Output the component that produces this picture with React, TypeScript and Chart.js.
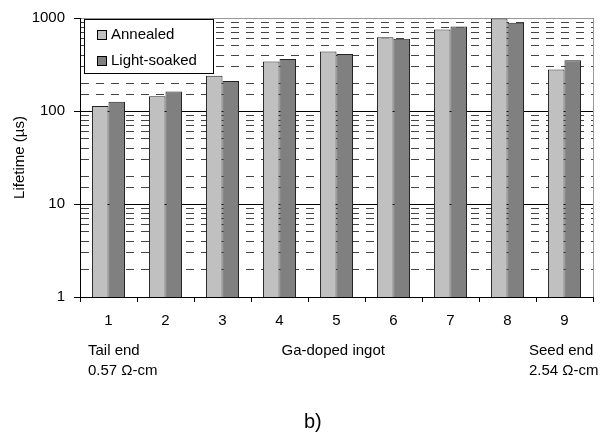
import React, { useEffect, useRef } from "react";
import { Chart, registerables } from "chart.js";

Chart.register(...registerables);

const categories = ["1", "2", "3", "4", "5", "6", "7", "8", "9"];
const annealed = [113, 144, 239, 341, 436, 622, 752, 990, 280];
const lightSoaked = [126, 162, 210, 363, 411, 598, 809, 890, 352];
const seriesNames = ["Annealed", "Light-soaked"];
const seriesColors = ["#c0c0c0", "#808080"];
const yTickLabels = [1, 10, 100, 1000];
const yTitle = "Lifetime (µs)";

const FONT = "'Liberation Sans', Arial, Helvetica, sans-serif";

const isMajor = (v: number) => {
  const l = Math.log10(v);
  return Math.abs(l - Math.round(l)) < 1e-9;
};

const legendPlugin = {
  id: "boxLegend",
  afterDatasetsDraw(chart: any) {
    const ctx = chart.ctx;
    const a = chart.chartArea;
    const x = Math.round(a.left) + 4.5;
    const y = Math.round(a.top) + 1.5;
    ctx.save();
    ctx.fillStyle = "#fff";
    ctx.fillRect(x, y, 129, 54);
    ctx.strokeStyle = "#000";
    ctx.lineWidth = 1;
    ctx.strokeRect(x, y, 129, 54);
    ctx.font = `15px ${FONT}`;
    ctx.textBaseline = "middle";
    ctx.textAlign = "left";
    chart.data.datasets.forEach((ds: any, i: number) => {
      const cy = Math.round(a.top) + 17 + i * 26;
      ctx.fillStyle = ds.backgroundColor;
      ctx.fillRect(x + 12.5, cy - 5, 10, 10);
      ctx.strokeStyle = "#000";
      ctx.strokeRect(x + 13, cy - 4.5, 9, 9);
      ctx.fillStyle = "#000";
      ctx.fillText(ds.label, x + 26.5, cy);
    });
    ctx.restore();
  },
};

export default function App() {
  const ref = useRef<HTMLCanvasElement>(null);

  useEffect(() => {
    if (!ref.current) return;
    const font = { family: FONT, size: 15 };
    const chart = new Chart(ref.current, {
      type: "bar",
      data: {
        labels: categories,
        datasets: [
          {
            label: seriesNames[0],
            data: annealed,
            backgroundColor: seriesColors[0],
            borderColor: "#222",
            borderWidth: 1,
          },
          {
            label: seriesNames[1],
            data: lightSoaked,
            backgroundColor: seriesColors[1],
            borderColor: "#222",
            borderWidth: 1,
          },
        ],
      },
      options: {
        responsive: false,
        animation: false,
        devicePixelRatio: 1,
        layout: { padding: { top: 15, right: 16, left: 0, bottom: 0 } },
        datasets: { bar: { categoryPercentage: 0.58, barPercentage: 1 } },
        plugins: {
          legend: { display: false },
          tooltip: { enabled: false },
        },
        scales: {
          x: {
            grid: {
              offset: true,
              drawOnChartArea: true,
              color: (ctx: any) => (ctx.tick ? "rgba(0,0,0,0)" : "#999"),
              tickColor: "#000",
              tickLength: 5,
              lineWidth: 1,
            },
            border: { color: "#000", width: 1 },
            ticks: {
              color: "#000",
              font,
              padding: 10,
              maxRotation: 0,
              autoSkip: false,
            },
            afterFit: (s: any) => {
              s.height = 142;
            },
          },
          y: {
            type: "logarithmic",
            min: 1,
            max: 1000,
            grid: {
              color: (ctx: any) => {
                const v = ctx.tick ? ctx.tick.value : 0;
                if (v >= 1000) return "#999";
                return isMajor(v) ? "#000" : "#444";
              },
              tickColor: (ctx: any) =>
                ctx.tick && isMajor(ctx.tick.value) ? "#000" : "rgba(0,0,0,0)",
              tickLength: 6,
              lineWidth: 1,
            },
            border: {
              color: "#000",
              width: 1,
              dash: (ctx: any) =>
                ctx.tick && !isMajor(ctx.tick.value) ? [8, 7] : [],
            },
            ticks: {
              autoSkip: false,
              color: "#000",
              font,
              padding: 9,
              callback: (v: any) =>
                yTickLabels.includes(Number(v)) ? String(v) : "",
            },
            title: {
              display: true,
              text: yTitle,
              color: "#000",
              font,
              padding: { top: 11, bottom: 0 },
            },
            afterFit: (s: any) => {
              s.width = 80;
            },
          },
        },
      } as any,
      plugins: [legendPlugin],
    });
    return () => chart.destroy();
  }, []);

  const txt: React.CSSProperties = {
    position: "absolute",
    fontSize: 15,
    lineHeight: "20px",
    whiteSpace: "nowrap",
  };

  return (
    <div
      style={{
        position: "absolute",
        left: 0,
        top: 0,
        width: 609,
        height: 439,
        fontFamily: FONT,
        color: "#000",
        background: "#fff",
      }}
    >
      <canvas
        ref={ref}
        width={609}
        height={439}
        style={{ position: "absolute", left: 0, top: 0, width: 609, height: 439 }}
      />
      <div style={{ ...txt, left: 88, top: 339.5 }}>
        Tail end
        <br />
        0.57 Ω-cm
      </div>
      <div style={{ ...txt, left: 281.5, top: 339.5 }}>Ga-doped ingot</div>
      <div style={{ ...txt, left: 529, top: 339.5 }}>
        Seed end
        <br />
        2.54 Ω-cm
      </div>
      <div style={{ ...txt, left: 304, top: 408.5, fontSize: 20, lineHeight: "24px" }}>b)</div>
    </div>
  );
}
